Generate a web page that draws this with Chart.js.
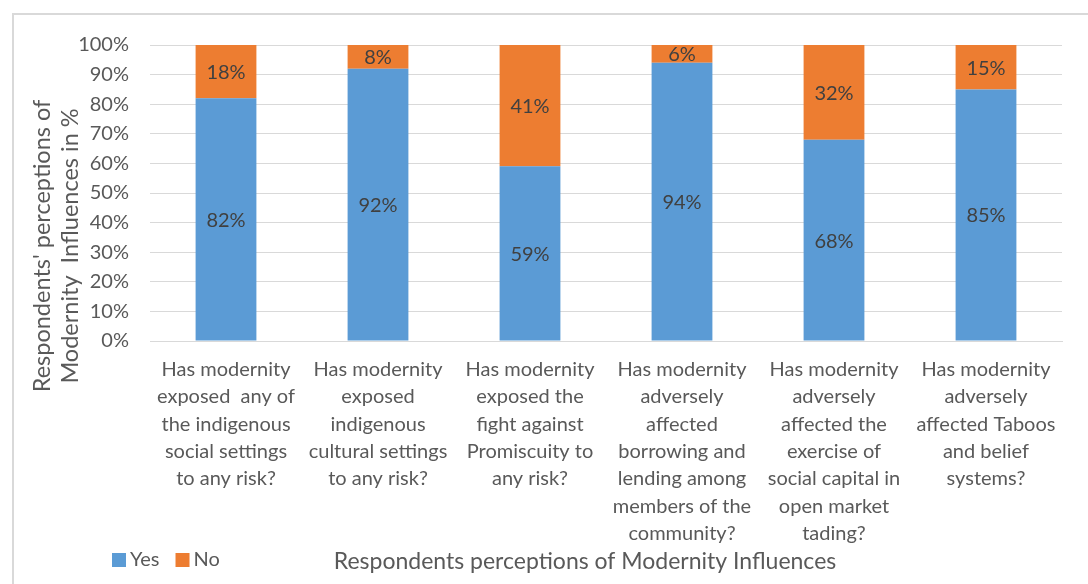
<!DOCTYPE html>
<html>
<head>
<meta charset="utf-8">
<title>Respondents perceptions of Modernity Influences</title>
<script src="https://cdn.jsdelivr.net/npm/chart.js@4/dist/chart.umd.min.js"></script>
<style>
  html, body { margin: 0; padding: 0; background: #ffffff; overflow: hidden; }
  #wrap { position: relative; width: 1088px; height: 584px; }
  #frame {
    position: absolute; left: 12px; top: 13px; width: 1200px; height: 700px;
    border-left: 2px solid #d9d9d9; border-top: 2px solid #d9d9d9;
    pointer-events: none;
  }
  canvas { position: absolute; left: 0; top: 0; }
</style>
</head>
<body>
<div id="wrap">
  <canvas id="chart" width="1088" height="584"></canvas>
  <div id="frame"></div>
</div>
<script>
// Survey questions (multi-line category labels)
const categories = [
  ["Has modernity", "exposed  any of", "the indigenous", "social settings", "to any risk?"],
  ["Has modernity", "exposed", "indigenous", "cultural settings", "to any risk?"],
  ["Has modernity", "exposed the", "fight against", "Promiscuity to", "any risk?"],
  ["Has modernity", "adversely", "affected", "borrowing and", "lending among", "members of the", "community?"],
  ["Has modernity", "adversely", "affected the", "exercise of", "social capital in", "open market", "tading?"],
  ["Has modernity", "adversely", "affected Taboos", "and belief", "systems?"]
];

// Share of respondents (%)
const yesValues = [82, 92, 59, 94, 68, 85];
const noValues  = [18, 8, 41, 6, 32, 15];

const seriesNames = ["Yes", "No"];
const seriesColors = ["#5B9BD5", "#ED7D31"];

// Value axis ticks
const yTickValues = [0, 10, 20, 30, 40, 50, 60, 70, 80, 90, 100];

const yAxisTitle = ["Respondents' perceptions of", "Modernity  Influences in %"];
const xAxisTitle = "Respondents perceptions of Modernity Influences";

const FONT = "Lato, 'Open Sans', 'Liberation Sans', sans-serif";
const TEXT_GREY = "#595959";

// Percentage labels centred in each stacked segment
const segmentLabels = {
  id: "segmentLabels",
  afterDatasetsDraw(chart) {
    const ctx = chart.ctx;
    ctx.save();
    ctx.font = "20px " + FONT;
    ctx.fillStyle = "#404040";
    ctx.textAlign = "center";
    ctx.textBaseline = "middle";
    chart.data.datasets.forEach((ds, di) => {
      const meta = chart.getDatasetMeta(di);
      meta.data.forEach((bar, i) => {
        const v = ds.data[i];
        const p = bar.getProps(["x", "y", "base"], true);
        ctx.fillText(v + "%", p.x, (p.y + p.base) / 2 + 1);
      });
    });
    ctx.restore();
  }
};

// Axis titles and legend row along the bottom
const captions = {
  id: "captions",
  afterDraw(chart) {
    const ctx = chart.ctx;
    const area = chart.chartArea;
    ctx.save();
    ctx.fillStyle = TEXT_GREY;

    // vertical axis title (two lines, rotated)
    ctx.font = "23.5px " + FONT;
    ctx.textAlign = "center";
    ctx.textBaseline = "middle";
    const cy = area.bottom - 95;
    yAxisTitle.forEach((line, k) => {
      ctx.save();
      ctx.translate(area.left - 108 + k * 28, cy);
      ctx.rotate(-Math.PI / 2);
      ctx.fillText(line, 0, 0);
      ctx.restore();
    });

    // horizontal axis title
    ctx.font = "23px " + FONT;
    ctx.textAlign = "center";
    ctx.fillText(xAxisTitle, area.left + 435, area.bottom + 221);

    // legend
    ctx.font = "20px " + FONT;
    ctx.textAlign = "left";
    let x = area.left - 38;
    const ly = area.bottom + 219;
    chart.data.datasets.forEach((ds) => {
      ctx.fillStyle = ds.backgroundColor;
      ctx.fillRect(x, ly - 7, 14, 14);
      ctx.fillStyle = TEXT_GREY;
      ctx.fillText(ds.label, x + 18, ly);
      x += 18 + ctx.measureText(ds.label).width + 16;
    });
    ctx.restore();
  }
};

new Chart(document.getElementById("chart"), {
  type: "bar",
  data: {
    labels: categories,
    datasets: [
      { label: seriesNames[0], data: yesValues, backgroundColor: seriesColors[0] },
      { label: seriesNames[1], data: noValues, backgroundColor: seriesColors[1] }
    ]
  },
  options: {
    responsive: false,
    animation: false,
    devicePixelRatio: 1,
    layout: { padding: { top: 45, right: 26, bottom: 0, left: 0 } },
    datasets: { bar: { barPercentage: 0.4, categoryPercentage: 1.0 } },
    plugins: {
      legend: { display: false },
      tooltip: { enabled: false },
      title: { display: false }
    },
    scales: {
      x: {
        stacked: true,
        afterFit(scale) { scale.height = 243; },
        grid: { display: false, drawTicks: false },
        border: { display: true, color: "#d9d9d9", width: 1 },
        ticks: {
          autoSkip: false,
          maxRotation: 0,
          minRotation: 0,
          padding: 15,
          color: TEXT_GREY,
          font: { family: FONT, size: 20, lineHeight: 1.365 }
        }
      },
      y: {
        stacked: true,
        min: 0,
        max: 100,
        afterFit(scale) { scale.width = 150; },
        afterBuildTicks(scale) { scale.ticks = yTickValues.map(v => ({ value: v })); },
        grid: { color: "#d9d9d9", lineWidth: 1, drawTicks: false },
        border: { display: false },
        ticks: {
          padding: 21,
          color: TEXT_GREY,
          font: { family: FONT, size: 20 },
          callback: (v) => v + "%"
        }
      }
    }
  },
  plugins: [segmentLabels, captions]
});
</script>
</body>
</html>
